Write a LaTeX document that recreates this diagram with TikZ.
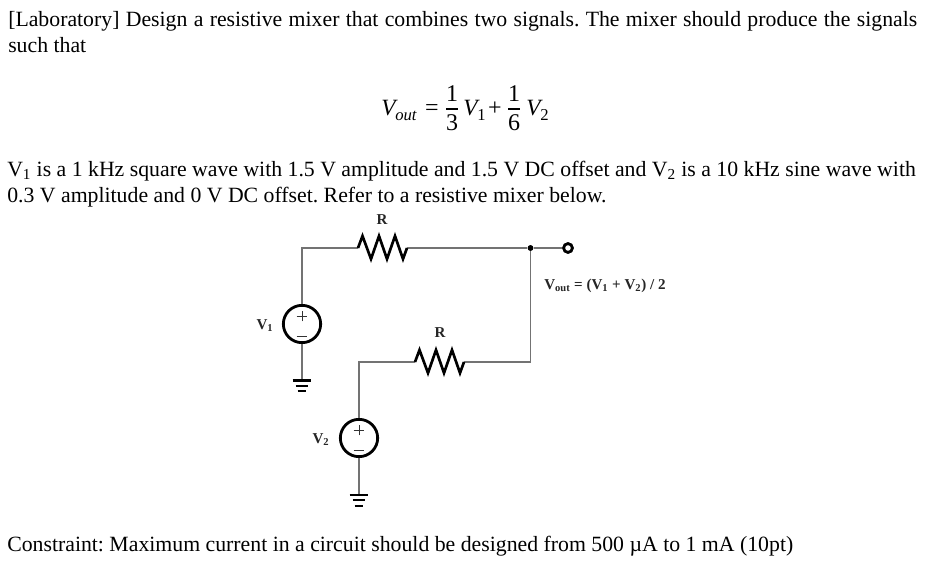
\documentclass[tikz,border=0pt]{standalone}
\usepackage{fontspec}
\setmainfont{Liberation Serif}
\frenchspacing
\tikzset{
  wire/.style={draw=black!55,line width=1.25pt},
  resline/.style={draw=black,line width=2pt,line join=miter},
  srcbox/.style={circle,draw=black,line width=2.1pt,minimum size=28pt,inner sep=0pt},
  body/.style={anchor=base west,inner sep=0pt,font=\fontsize{16.33pt}{18pt}\selectfont},
  lab/.style={inner sep=0pt,anchor=base,font=\fontsize{11.3pt}{13pt}\selectfont\bfseries,text=black!85},
  eq/.style={inner sep=0pt,anchor=base,font=\fontsize{18pt}{20pt}\selectfont},
  eqv/.style={inner sep=0pt,anchor=base west,font=\fontsize{17.5pt}{20pt}\selectfont\itshape},
  eqsub/.style={inner sep=0pt,anchor=base west,font=\fontsize{12.5pt}{14pt}\selectfont},
  gndline/.style={draw=black,line width=1.7pt},
  signline/.style={draw=black!80,line width=0.7pt},
  dotnode/.style={circle,fill=black,inner sep=0pt,minimum size=4.2pt},
  termnode/.style={circle,draw=black,fill=white,line width=2pt,inner sep=0pt,minimum size=6.5pt}
}
\newcommand{\zigzag}[2]{%
  \draw[resline] (#1) -- ++(4.5,-12) -- ++(8.5,23) -- ++(8,-23) -- ++(8,23) -- ++(8,-23) -- ++(8,23) -- (#2);}
\newcommand{\gnd}[1]{%
  \draw[gndline] ([xshift=-7.1pt]#1) -- ([xshift=7.1pt]#1);
  \draw[gndline] ([xshift=-4.8pt,yshift=-3.9pt]#1) -- ([xshift=4.8pt,yshift=-3.9pt]#1);
  \draw[gndline] ([xshift=-3.2pt,yshift=-8pt]#1) -- ([xshift=3.2pt,yshift=-8pt]#1);}
\begin{document}
\begin{tikzpicture}[x=0.75pt,y=-0.75pt]
\useasboundingbox (0,0) rectangle (925,567);
\node[body] (t1) at (8,27) {\makebox[681.75pt][s]{[Laboratory] Design a resistive mixer that combines two signals. The mixer should produce the signals}};
\node[body] (t2) at (8,53) {such that};
\node[body] (t3) at (7,176) {V\textsubscript{1} is a 1 kHz square wave with 1.5 V amplitude and 1.5 V DC offset and V\textsubscript{2} is a 10 kHz sine wave with};
\node[body] (t4) at (7,202) {0.3 V amplitude and 0 V DC offset. Refer to a resistive mixer below.};
\node[body] (t5) at (7,551) {Constraint: Maximum current in a circuit should be designed from 500 µA to 1 mA (10pt)};
% equation
\node[eqv] (e1) at (381,116) {V};
\node[eqsub,font=\fontsize{12.5pt}{14pt}\selectfont\itshape] (e2) at (395,120) {out};
\node[eq] (e3) at (432,116) {=};
\node[eq] (e4) at (452,102) {1};
\node[eq] (e5) at (452,131) {3};
\node[eqv] (e6) at (463,116) {V};
\node[eqsub] (e7) at (477,120) {1};
\node[eq] (e8) at (495,116) {+};
\node[eq] (e9) at (514,102) {1};
\node[eq] (e10) at (514,131) {6};
\node[eqv] (e11) at (526,116) {V};
\node[eqsub] (e12) at (540,120) {2};
\coordinate (f1a) at (446,109); \coordinate (f1b) at (458,109);
\coordinate (f2a) at (508,109); \coordinate (f2b) at (520,109);
\draw[line width=1pt] (f1a) -- (f1b);
\draw[line width=1pt] (f2a) -- (f2b);
% circuit
\node[srcbox] (v1) at (302,324) {};
\node[srcbox] (v2) at (359,438) {};
\coordinate (c1) at (302,248);
\coordinate (c2) at (359,362);
\coordinate (c3) at (530.5,362);
\coordinate (r1a) at (358,248); \coordinate (r1b) at (407,248);
\coordinate (r2a) at (415,362); \coordinate (r2b) at (464,362);
\coordinate (g1) at (302,380.5);
\coordinate (g2) at (359,495);
\node[dotnode] (j) at (530.5,248) {};
\node[termnode] (out) at (568,248) {};
\draw[wire] (v1) -- (c1) -- (r1a);
\draw[wire] (r1b) -- (j) -- (out);
\draw[wire] (j) -- (c3) -- (r2b);
\draw[wire] (r2a) -- (c2) -- (v2);
\draw[wire] (v1) -- (g1);
\draw[wire] (v2) -- (g2);
\node[termnode] at (out) {};
\node[dotnode] at (j) {};
\zigzag{r1a}{r1b}
\zigzag{r2a}{r2b}
\gnd{g1}
\gnd{g2}
% source signs
\coordinate (p1) at (302,316); \coordinate (m1) at (302,336);
\coordinate (p2) at (359,430); \coordinate (m2) at (359,450);
\foreach \q in {p1,p2} {
  \draw[signline] ([xshift=-4pt]\q) -- ([xshift=4pt]\q);
  \draw[signline] ([yshift=-4pt]\q) -- ([yshift=4pt]\q);
}
\foreach \q in {m1,m2} {
  \draw[signline] ([xshift=-4pt]\q) -- ([xshift=4pt]\q);
}
% labels
\node[lab] (lr1) at (382,224) {R};
\node[lab] (lr2) at (440,337) {R};
\node[lab] (lv1) at (265,329) {V\textsubscript{1}};
\node[lab] (lv2) at (321,443) {V\textsubscript{2}};
\node[lab,anchor=base west] (lvo) at (544,289) {V\textsubscript{out} = (V\textsubscript{1} + V\textsubscript{2}) / 2};
\end{tikzpicture}
\end{document}
